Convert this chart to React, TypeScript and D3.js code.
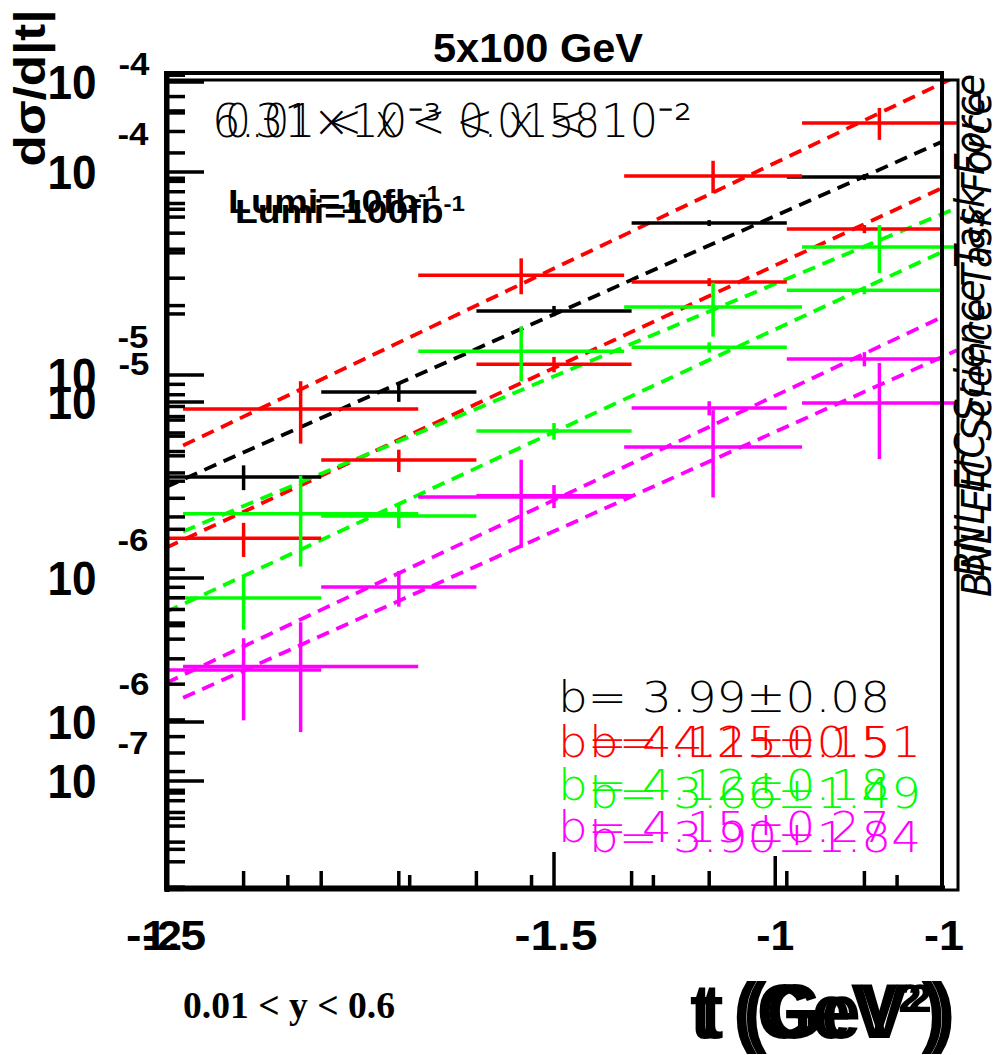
import React from "react";
import * as d3 from "d3";

const W = 998;
const H = 1055;

// ---- data (log10|t| bin edges) ----
const binEdgesA = [-2.0, -1.8, -1.6, -1.4, -1.2, -1.0];
const binEdgesB = [-1.486, -1.293, -1.124, -0.978, -0.851];

// dsigma/d|t| values and errors, plot A (Lumi=10fb-1)
const blackA = [3.15e-6, 8.25e-6, 2.07e-5, 5.61e-5, 9.45e-5];
const blackAErr = [0.44e-6, 0.87e-6, 1.2e-6, 1.9e-6, 3.2e-6];
const redA = [1.57e-6, 3.81e-6, 1.13e-5, 2.87e-5, 5.24e-5];
const redAErr = [0.3e-6, 0.48e-6, 0.98e-6, 1.3e-6, 2.4e-6];
const greenA = [7.97e-7, 2.02e-6, 5.3e-6, 1.37e-5, 2.62e-5];
const greenAErr = [2.4e-7, 0.26e-6, 0.5e-6, 0.8e-6, 1.2e-6];
const magentaA = [3.52e-7, 9.03e-7, 2.54e-6, 6.88e-6, 1.2e-5];
const magentaAErr = [1.53e-7, 1.8e-7, 0.33e-6, 0.55e-6, 0.96e-6];

// plot B (Lumi=100fb-1)
const redB = [9.51e-6, 2.49e-5, 5.08e-5, 7.44e-5];
const redBErr = [2.1e-6, 3.2e-6, 5.9e-6, 8.5e-6];
const greenB = [4.47e-6, 1.44e-5, 1.98e-5, 3.05e-5];
const greenBErr = [1.41e-6, 2.8e-6, 3.8e-6, 5.2e-6];
const magentaB = [1.49e-6, 5.05e-6, 7.23e-6, 9.93e-6];
const magentaBErr = [5.6e-7, 1.55e-6, 2.2e-6, 3.3e-6];

// fit line values at first and last bin edge
const fitBlackA = [2.81e-6, 1.41e-4];
const fitRedA = [1.41e-6, 8.34e-5];
const fitGreenA = [6.8e-7, 4.04e-5];
const fitMagentaA = [3.04e-7, 1.93e-5];
const fitRedB = [7.31e-6, 1.042e-4];
const fitGreenB = [3.94e-6, 4.04e-5];
const fitMagentaB = [1.19e-6, 1.45e-5];

// tick labels
const yDecadesA = [-4, -5, -6, -7];
const yDecadesB = [-4, -5, -6];
const xLabelsA = ["-2", "-1.5", "-1"];
const xLabelValsA = [-2, -1.5, -1];
const xLabelsB = ["-1.5", "-1"];
const xLabelValsB = [-1.5, -1];

const legendA = ["b= 3.99±0.08", "b= 4.12±0.15", "b= 4.12±0.18", "b= 4.15±0.27"];
const legendB = ["b= 4.15±0.51", "b= 3.66±1.49", "b= 3.90±1.84"];

const RED = "#ff0000";
const GREEN = "#00ff00";
const MAG = "#ff00ff";
const BLK = "#000000";

export default function App() {
  const xA = d3.scaleLinear().domain([-2, -1]).range([166, 942]);
  const xB = d3.scaleLinear().domain([-1.5, -0.85]).range([166, 958]);
  const yA = d3.scaleLog().domain([10 ** -7.527, 10 ** -3.512]).range([888, 73]);
  const yB = d3.scaleLog().domain([10 ** -6.525, 10 ** -3.994]).range([890, 80]);

  const seriesA = [
    { color: BLK, v: blackA, e: blackAErr, fit: fitBlackA },
    { color: RED, v: redA, e: redAErr, fit: fitRedA },
    { color: GREEN, v: greenA, e: greenAErr, fit: fitGreenA },
    { color: MAG, v: magentaA, e: magentaAErr, fit: fitMagentaA },
  ];
  const seriesB = [
    { color: RED, v: redB, e: redBErr, fit: fitRedB },
    { color: GREEN, v: greenB, e: greenBErr, fit: fitGreenB },
    { color: MAG, v: magentaB, e: magentaBErr, fit: fitMagentaB },
  ];

  const isDecade = (v: number) => Math.abs(Math.log10(v) - Math.round(Math.log10(v))) < 1e-6;

  const line = (sx: any, sy: any) =>
    d3.line<[number, number]>().x((d) => sx(d[0])).y((d) => sy(d[1]));

  const drawSeries = (s: any, edges: number[], sx: any, sy: any, key: string) => {
    const els: any[] = [];
    s.v.forEach((val: number, i: number) => {
      const x0 = sx(edges[i]);
      const x1 = sx(edges[i + 1]);
      const xc = (x0 + x1) / 2;
      const y = sy(val);
      els.push(
        <line key={key + "h" + i} x1={x0} x2={x1} y1={y} y2={y} stroke={s.color} strokeWidth={3.5} />
      );
      els.push(
        <line key={key + "v" + i} x1={xc} x2={xc} y1={sy(val + s.e[i])} y2={sy(val - s.e[i])} stroke={s.color} strokeWidth={3.5} />
      );
    });
    return els;
  };

  const drawFit = (s: any, edges: number[], sx: any, sy: any, key: string) => {
    const pts: [number, number][] = [
      [edges[0], s.fit[0]],
      [edges[edges.length - 1], s.fit[1]],
    ];
    return (
      <path key={key} d={line(sx, sy)(pts) || ""} fill="none" stroke={s.color} strokeWidth={3.8} strokeDasharray="13 8" />
    );
  };

  const yTicksA = yA.ticks();
  const yTicksB = yB.ticks();
  const xTicksA = d3.range(0, 11).map((i) => -2 + i * 0.1);
  const xTicksB = d3.range(0, 7).map((i) => -1.5 + i * 0.1);

  const sans = "'Liberation Sans', Arial, sans-serif";
  const thin = "'DejaVu Sans', sans-serif";

  return (
    <svg width={W} height={H} viewBox={`0 0 ${W} ${H}`} style={{ display: "block", background: "#fff", position: "absolute", left: 0, top: 0 }}>
      <defs>
        <clipPath id="clipA">
          <rect x={166} y={73} width={776} height={815} />
        </clipPath>
        <clipPath id="clipB">
          <rect x={166} y={80} width={792} height={810} />
        </clipPath>
      </defs>
      <rect x={0} y={0} width={W} height={H} fill="#fff" />

      {/* title */}
      <text x={538} y={62} textAnchor="middle" fontFamily={sans} fontWeight="bold" fontSize={40} textLength={210} lengthAdjust="spacingAndGlyphs">
        5x100 GeV
      </text>

      {/* y axis title */}
      <text transform="translate(45,88) rotate(-90)" textAnchor="middle" fontFamily={sans} fontWeight="bold" fontSize={44} textLength={157} lengthAdjust="spacingAndGlyphs">
        dσ/d|t|
      </text>

      {/* data */}
      <g clipPath="url(#clipA)">
        {seriesA.map((s, k) => drawFit(s, binEdgesA, xA, yA, "fa" + k))}
      </g>
      <g clipPath="url(#clipB)">
        {seriesB.map((s, k) => drawFit(s, binEdgesB, xB, yB, "fb" + k))}
      </g>
      <g>{seriesA.map((s, k) => drawSeries(s, binEdgesA, xA, yA, "sa" + k))}</g>
      <g>{seriesB.map((s, k) => drawSeries(s, binEdgesB, xB, yB, "sb" + k))}</g>

      {/* frames */}
      <rect x={166} y={80} width={792} height={810} fill="none" stroke={BLK} strokeWidth={3} />
      <rect x={166} y={73} width={776} height={815} fill="none" stroke={BLK} strokeWidth={4} />
      <line x1={167} x2={167} y1={72} y2={892} stroke={BLK} strokeWidth={5} />
      <line x1={164} x2={945} y1={888} y2={888} stroke={BLK} strokeWidth={5} />

      {/* y ticks */}
      {yTicksA.map((t, i) => {
        const y = yA(t);
        const len = isDecade(t) ? 38 : 19;
        return <line key={"yta" + i} x1={166} x2={166 + len} y1={y} y2={y} stroke={BLK} strokeWidth={3.5} />;
      })}
      {yTicksB.map((t, i) => {
        const y = yB(t);
        if (y < 80 || y > 890) return null;
        const len = isDecade(t) ? 38 : 19;
        return <line key={"ytb" + i} x1={166} x2={166 + len} y1={y} y2={y} stroke={BLK} strokeWidth={3.5} />;
      })}

      {/* x ticks */}
      {xTicksA.map((t, i) => {
        const x = xA(t);
        const major = Math.abs(t + 1.5) < 1e-6;
        return <line key={"xta" + i} x1={x} x2={x} y1={888} y2={888 - (major ? 36 : 17)} stroke={BLK} strokeWidth={3.5} />;
      })}
      {xTicksB.map((t, i) => {
        const x = xB(t);
        const major = Math.abs(t + 1) < 1e-6;
        return <line key={"xtb" + i} x1={x} x2={x} y1={888} y2={888 - (major ? 32 : 13)} stroke={BLK} strokeWidth={3.5} />;
      })}

      {/* y labels */}
      {yDecadesA.map((d, i) => {
        const y = yA(10 ** d);
        return (
          <g key={"yla" + i}>
            <text x={72} y={y + 17} textAnchor="middle" fontFamily={sans} fontWeight="bold" fontSize={48} textLength={49} lengthAdjust="spacingAndGlyphs">10</text>
            <text x={133} y={y - 27} textAnchor="middle" fontFamily={sans} fontWeight="bold" fontSize={31} textLength={31} lengthAdjust="spacingAndGlyphs">{String(d)}</text>
          </g>
        );
      })}
      {yDecadesB.map((d, i) => {
        const y = yB(10 ** d);
        return (
          <g key={"ylb" + i}>
            <text x={72} y={y + 17} textAnchor="middle" fontFamily={sans} fontWeight="bold" fontSize={48} textLength={49} lengthAdjust="spacingAndGlyphs">10</text>
            <text x={134} y={Math.max(y - 27, 75)} textAnchor="middle" fontFamily={sans} fontWeight="bold" fontSize={31} textLength={31} lengthAdjust="spacingAndGlyphs">{String(d)}</text>
          </g>
        );
      })}

      {/* x labels */}
      {xLabelsA.map((l, i) => (
        <text key={"xla" + i} x={xA(xLabelValsA[i]) + (i === 0 ? -4 : 2)} y={950} textAnchor="middle" fontFamily={sans} fontWeight="bold" fontSize={42} textLength={l.length > 2 ? 83 : 40} lengthAdjust="spacingAndGlyphs">{l}</text>
      ))}
      {xLabelsB.map((l, i) => (
        <text key={"xlb" + i} x={xB(xLabelValsB[i])} y={950} textAnchor="middle" fontFamily={sans} fontWeight="bold" fontSize={42} textLength={l.length > 2 ? 80 : 38} lengthAdjust="spacingAndGlyphs">{l}</text>
      ))}

      {/* x axis title (two overlaid copies) */}
      <text x={690} y={1038} fontFamily={sans} fontWeight="bold" fontSize={78} textLength={255} lengthAdjust="spacingAndGlyphs">t (GeV²)</text>
      <text x={700} y={1038} fontFamily={sans} fontWeight="bold" fontSize={78} textLength={255} lengthAdjust="spacingAndGlyphs">t (GeV²)</text>

      <text x={183} y={1018} fontFamily="'Liberation Serif', 'Times New Roman', serif" fontWeight="bold" fontSize={38} textLength={212} lengthAdjust="spacingAndGlyphs">0.01 &lt; y &lt; 0.6</text>

      {/* x-range texts */}
      <text x={212} y={137} fontFamily={thin} fontWeight={200} fontSize={46} textLength={480} lengthAdjust="spacingAndGlyphs">6.31×10⁻³ &lt; x &lt; 10⁻²</text>
      <text x={225} y={137} fontFamily={thin} fontWeight={200} fontSize={46} textLength={375} lengthAdjust="spacingAndGlyphs">0.01 &lt; x &lt; 0.0158</text>

      {/* Lumi */}
      <text x={228} y={213} fontFamily={sans} fontWeight="bold" fontSize={34} textLength={212} lengthAdjust="spacingAndGlyphs">
        Lumi=10fb<tspan dy={-12} fontSize={22}>-1</tspan>
      </text>
      <text x={235} y={223} fontFamily={sans} fontWeight="bold" fontSize={34} textLength={230} lengthAdjust="spacingAndGlyphs">
        Lumi=100fb<tspan dy={-12} fontSize={22}>-1</tspan>
      </text>

      {/* fit legends */}
      {legendA.map((l, i) => (
        <text key={"lga" + i} x={558} y={[712, 757, 800, 842][i]} fill={seriesA[i].color} fontFamily={thin} fontWeight={200} fontSize={43} textLength={332} lengthAdjust="spacingAndGlyphs">{l}</text>
      ))}
      {legendB.map((l, i) => (
        <text key={"lgb" + i} x={589} y={[757, 808, 852][i]} fill={seriesB[i].color} fontFamily={thin} fontWeight={200} fontSize={43} textLength={332} lengthAdjust="spacingAndGlyphs">{l}</text>
      ))}

      {/* side label, two copies */}
      <text transform="translate(991,597) rotate(-90)" fontFamily={thin} fontStyle="italic" fontWeight={200} fontSize={40} textLength={505} lengthAdjust="spacingAndGlyphs">BNL EIC Science Task Force</text>
      <text transform="translate(984,577) rotate(-90)" fontFamily={thin} fontStyle="italic" fontWeight={200} fontSize={40} textLength={503} lengthAdjust="spacingAndGlyphs">BNL EIC Science Task Force</text>
    </svg>
  );
}
